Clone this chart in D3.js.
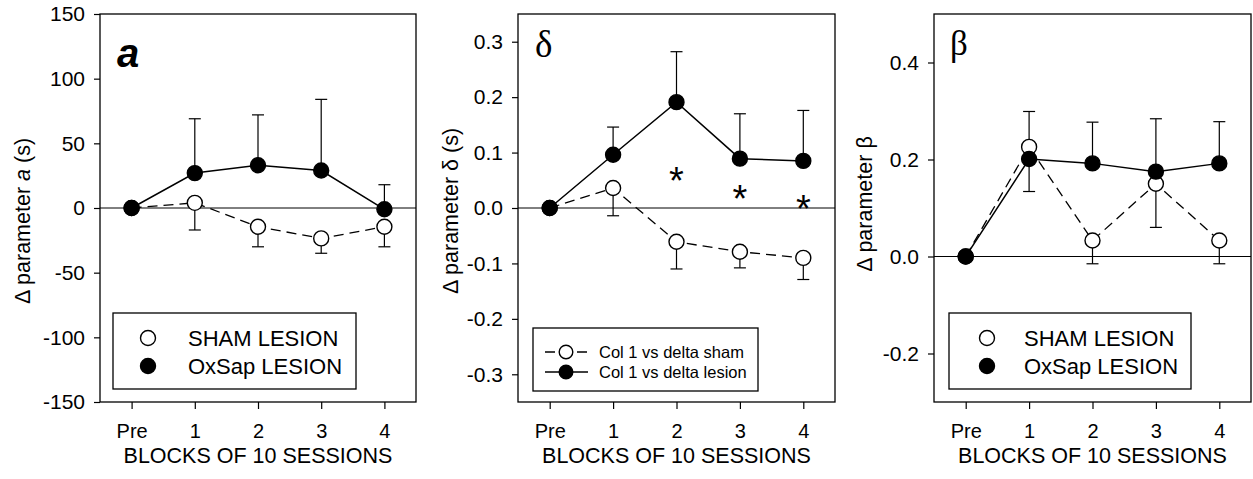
<!DOCTYPE html>
<html><head><meta charset="utf-8">
<script src="https://cdn.jsdelivr.net/npm/d3@7"></script>
<style>
body{margin:0;background:#fff}
svg text{font-family:"Liberation Sans",Arial,sans-serif;fill:#000}
</style>
</head><body><svg id="c" width="1253" height="479"></svg>
<script>
// ---------- data ----------
const blocks = ["Pre", "1", "2", "3", "4"];

// panel a : Δ parameter a (s)
const aSham       = [0, 4, -14.5, -23.5, -14.5];
const aShamErr    = [0, 21, 15.5, 11.5, 15.5];
const aLesion     = [0, 27, 33, 29, -1];
const aLesionErr  = [0, 42, 39, 55, 19];
const aTicks      = [-150, -100, -50, 0, 50, 100, 150];

// panel δ : Δ parameter δ (s)
const dSham       = [0, 0.036, -0.061, -0.079, -0.090];
const dShamErr    = [0, 0.050, 0.049, 0.029, 0.039];
const dLesion     = [0, 0.096, 0.191, 0.089, 0.085];
const dLesionErr  = [0, 0.050, 0.091, 0.081, 0.091];
const dTicks      = [-0.3, -0.2, -0.1, 0, 0.1, 0.2, 0.3];
const dStarBlocks = ["2", "3", "4"];
const dStarValues = [0.060, 0.027, 0.009];

// panel β : Δ parameter β
const bSham       = [0, 0.226, 0.033, 0.150, 0.033];
const bShamErr    = [0, 0.092, 0.048, 0.090, 0.048];
const bLesion     = [0, 0.201, 0.192, 0.175, 0.192];
const bLesionErr  = [0, 0.098, 0.085, 0.109, 0.086];
const bTicks      = [-0.2, 0, 0.2, 0.4];

const legendAB = ["SHAM LESION", "OxSap LESION"];
const legendD  = ["Col 1 vs delta sham", "Col 1 vs delta lesion"];
const xTitle = "BLOCKS OF 10 SESSIONS";

// ---------- drawing ----------
const svg = d3.select("#c");

function drawPanel(p) {
  const g = svg.append("g");
  const x = d3.scalePoint().domain(blocks).range([p.left, p.right]).padding(0.5);
  const y = d3.scaleLinear().domain(p.domain).range([p.bottom, p.top]);

  // y axis
  const ya = g.append("g").attr("transform", `translate(${p.left},0)`)
    .call(d3.axisLeft(y).tickValues(p.ticks).tickFormat(p.fmt).tickSize(6).tickPadding(9));
  ya.select(".domain").remove();
  ya.attr("font-size", 21).attr("color", "#000");
  ya.selectAll("line").attr("stroke-width", 1.2);

  // x axis
  const xa = g.append("g").attr("transform", `translate(0,${p.bottom})`)
    .call(d3.axisBottom(x).tickSize(7).tickPadding(15));
  xa.select(".domain").remove();
  xa.attr("font-size", 20).attr("color", "#000");
  xa.selectAll("line").attr("stroke-width", 1.2);

  // frame
  g.append("rect").attr("x", p.left).attr("y", p.top)
    .attr("width", p.right - p.left).attr("height", p.bottom - p.top)
    .attr("fill", "none").attr("stroke", "#000").attr("stroke-width", 1.3);
  // zero line
  g.append("line").attr("x1", p.left).attr("x2", p.right)
    .attr("y1", y(0)).attr("y2", y(0)).attr("stroke", "#000").attr("stroke-width", 1);

  // error bars
  function errBars(vals, errs, dir) {
    const eg = g.append("g").attr("stroke", "#000").attr("stroke-width", 1.2);
    blocks.forEach((b, i) => {
      if (!errs[i]) return;
      const yv = y(vals[i]), ye = y(vals[i] + dir * errs[i]);
      eg.append("line").attr("x1", x(b)).attr("x2", x(b)).attr("y1", yv).attr("y2", ye);
      eg.append("line").attr("x1", x(b) - 6).attr("x2", x(b) + 6).attr("y1", ye).attr("y2", ye);
    });
  }
  errBars(p.sham, p.shamErr, -1);
  errBars(p.lesion, p.lesionErr, 1);

  const line = d3.line().x((d, i) => x(blocks[i])).y(d => y(d));
  g.append("path").datum(p.sham).attr("d", line).attr("fill", "none")
    .attr("stroke", "#000").attr("stroke-width", 1.3).attr("stroke-dasharray", "10,6");
  g.append("path").datum(p.lesion).attr("d", line).attr("fill", "none")
    .attr("stroke", "#000").attr("stroke-width", 1.5);

  g.append("g").selectAll("circle").data(p.sham).join("circle")
    .attr("cx", (d, i) => x(blocks[i])).attr("cy", d => y(d)).attr("r", 7.5)
    .attr("fill", "#fff").attr("stroke", "#000").attr("stroke-width", 1.4);
  g.append("g").selectAll("circle").data(p.lesion).join("circle")
    .attr("cx", (d, i) => x(blocks[i])).attr("cy", d => y(d)).attr("r", 7.5)
    .attr("fill", "#000").attr("stroke", "#000").attr("stroke-width", 1.4);

  // stars
  if (p.stars) {
    g.append("g").selectAll("text").data(p.stars.vals).join("text")
      .attr("x", (d, i) => x(p.stars.blocks[i])).attr("y", d => y(d))
      .attr("dy", "0.5em").attr("text-anchor", "middle").attr("font-size", 38)
      .text("*");
  }

  // panel label
  const lab = g.append("text").attr("x", p.labX).attr("y", p.labY).text(p.label);
  for (const k in p.labStyle) lab.style(k, p.labStyle[k]);

  // y title
  const yt = g.append("text").attr("transform", `translate(${p.ytX},${p.ytY}) rotate(-90)`)
    .attr("text-anchor", "middle").attr("font-size", 21.5);
  p.ytParts.forEach(pt => {
    const ts = yt.append("tspan").text(pt.t);
    if (pt.italic) ts.style("font-style", "italic");
  });

  // x title
  g.append("text").attr("x", (p.left + p.right) / 2).attr("y", 462.5)
    .attr("text-anchor", "middle").attr("font-size", 21.5).text(xTitle);

  // legend
  const L = p.legend;
  const lg = g.append("g");
  lg.append("rect").attr("x", p.left + L.dx).attr("y", L.y).attr("width", L.w).attr("height", L.h)
    .attr("fill", "#fff").attr("stroke", "#000").attr("stroke-width", 1.3);
  L.labels.forEach((t, i) => {
    const cy = L.rowY[i];
    if (L.lines) {
      lg.append("line").attr("x1", p.left + L.lineX[0]).attr("x2", p.left + L.lineX[1])
        .attr("y1", cy).attr("y2", cy).attr("stroke", "#000").attr("stroke-width", 1.3)
        .attr("stroke-dasharray", i === 0 ? "10,6" : null);
    }
    lg.append("circle").attr("cx", p.left + L.cx).attr("cy", cy).attr("r", L.r)
      .attr("fill", i === 0 ? "#fff" : "#000").attr("stroke", "#000").attr("stroke-width", 1.4);
    lg.append("text").attr("x", p.left + L.tx).attr("y", cy).attr("dy", "0.36em")
      .attr("font-size", L.fs).text(t);
  });
}

const fmt1 = d3.format(".1f");

drawPanel({
  left: 100, right: 416, top: 14, bottom: 402, domain: [-150, 150],
  ticks: aTicks, fmt: d => d3.format("d")(d).replace("−", "-"),
  sham: aSham, shamErr: aShamErr, lesion: aLesion, lesionErr: aLesionErr,
  label: "a", labX: 117, labY: 67,
  labStyle: {"font-size": "40px", "font-weight": "bold", "font-style": "italic"},
  ytX: 30, ytY: 221, ytParts: [{t: "Δ parameter "}, {t: "a", italic: true}, {t: " (s)"}],
  legend: {dx: 13, y: 313, w: 243, h: 76, rowY: [338, 366], cx: 48, tx: 88, r: 7.5,
           fs: 22, labels: legendAB, lines: false}
});

drawPanel({
  left: 518, right: 835, top: 14, bottom: 402, domain: [-0.35, 0.35],
  ticks: dTicks, fmt: d => fmt1(d).replace("−", "-"),
  sham: dSham, shamErr: dShamErr, lesion: dLesion, lesionErr: dLesionErr,
  stars: {blocks: dStarBlocks, vals: dStarValues},
  label: "δ", labX: 535, labY: 57,
  labStyle: {"font-size": "37px", "font-family": "'Liberation Serif','Times New Roman',serif"},
  ytX: 458, ytY: 211, ytParts: [{t: "Δ parameter δ (s)"}],
  legend: {dx: 15, y: 328, w: 225, h: 63, rowY: [352, 372], cx: 48, tx: 81, r: 6.8,
           lineX: [27, 70], fs: 16.5, labels: legendD, lines: true}
});

drawPanel({
  left: 934, right: 1251, top: 14, bottom: 402, domain: [-0.3, 0.5],
  ticks: bTicks, fmt: d => fmt1(d).replace("−", "-"),
  sham: bSham, shamErr: bShamErr, lesion: bLesion, lesionErr: bLesionErr,
  label: "β", labX: 950, labY: 55,
  labStyle: {"font-size": "35px", "font-family": "'Liberation Serif','Times New Roman',serif"},
  ytX: 872, ytY: 204, ytParts: [{t: "Δ parameter β"}],
  legend: {dx: 15, y: 313, w: 242, h: 76, rowY: [338, 366], cx: 53, tx: 90, r: 7.5,
           fs: 22, labels: legendAB, lines: false}
});
</script>
</body></html>
